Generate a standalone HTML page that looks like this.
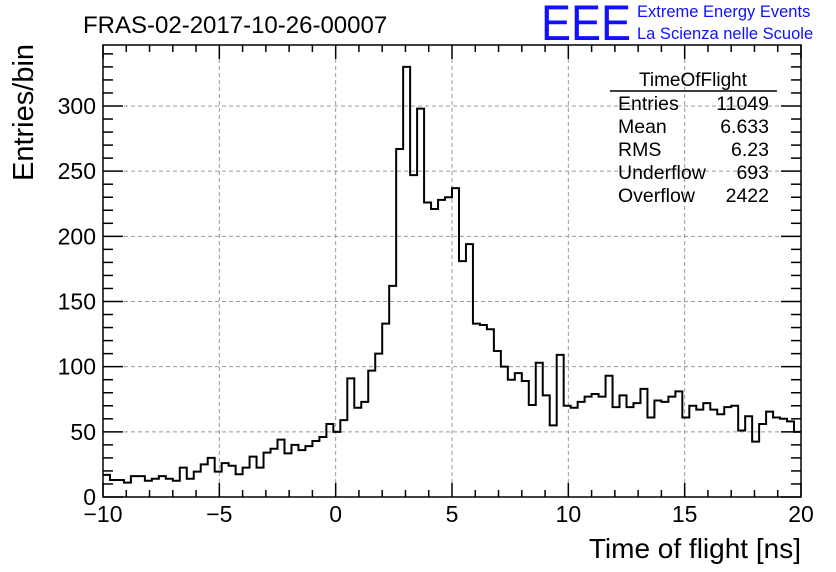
<!DOCTYPE html>
<html><head><meta charset="utf-8"><style>
body{margin:0;background:#fff;}
svg{display:block;font-family:"Liberation Sans",sans-serif;}
</style></head><body>
<svg id="c" width="836" height="572">
<text x="83" y="33" font-size="24">FRAS-02-2017-10-26-00007</text>
<text x="541" y="40" font-size="50" fill="#1010ff" textLength="90" lengthAdjust="spacingAndGlyphs">EEE</text>
<text x="637" y="17" font-size="16.5" fill="#1010ff">Extreme Energy Events</text>
<text x="637" y="39" font-size="16.5" fill="#1010ff">La Scienza nelle Scuole</text>
<g id="grid"></g>
<g id="hist"></g>
<rect x="103" y="45" width="698" height="452" fill="none" stroke="#000" stroke-width="1.5"/>
<g id="ticks"></g>
<text x="801" y="558" font-size="28" text-anchor="end">Time of flight [ns]</text>
<text transform="translate(33,181) rotate(-90)" font-size="29">Entries/bin</text>
<g>
<text x="693" y="86" font-size="19" text-anchor="middle">TimeOfFlight</text>
<line x1="610" y1="91" x2="777" y2="91" stroke="#000" stroke-width="1.5"/>
<g font-size="19.5" id="stats"></g>
</g>
</svg>
<script>
const binLo=-10, binW=0.3;
const counts=[17,13,13,11,16,16,12.5,14,16,14,12.5,22.5,14,19.5,25,30,19.5,26,24,17.5,22.5,31,22.5,34,37,44,33.5,40,36,39,43,46,56,50,59,91,68.5,73,97,110,133,162,267,330,247,298,226,221,228,230,237,181,194,133,132,128.7,112,100,90,95,89,70.6,103,78,55,109,70,68.5,73,77,79,77,93,69,78,69,72,83,61,74,73,77,81,61,70,67,72,67,63.5,69,70,51,62,42.5,56,65.5,61,60,58,50];
const xTicks=[-10,-5,0,5,10,15,20];
const yTicks=[0,50,100,150,200,250,300];
const statLabels=["Entries","Mean","RMS","Underflow","Overflow"];
const statValues=["11049","6.633","6.23","693","2422"];
const NS="http://www.w3.org/2000/svg";
const X0=103,X1=801,Y0=497,Y1=45;
const sx=v=>X0+(v+10)*(X1-X0)/30;
const sy=v=>Y0-v*391/300;
function mk(t,a,p){const e=document.createElementNS(NS,t);for(const k in a)e.setAttribute(k,a[k]);p.appendChild(e);return e;}
const grid=document.getElementById('grid'),ticks=document.getElementById('ticks'),hist=document.getElementById('hist'),stats=document.getElementById('stats');
xTicks.forEach(v=>{
 if(v>-10&&v<20){const g=mk('line',{x1:sx(v),x2:sx(v),y1:Y1,y2:Y0,stroke:'#999','stroke-dasharray':'4,3'},grid);
 
 }
 const t=mk('text',{x:sx(v),y:522,'font-size':23,'text-anchor':'middle'},ticks);t.textContent=v<0?'\u2212'+(-v):v;
 
 
});
for(let v=-10;v<=20;v++){const L=v%5===0?14:7;
 mk('line',{x1:sx(v),x2:sx(v),y1:Y0,y2:Y0-L,stroke:'#000','stroke-width':1.5},ticks);
 mk('line',{x1:sx(v),x2:sx(v),y1:Y1,y2:Y1+L,stroke:'#000','stroke-width':1.5},ticks);}
yTicks.forEach(v=>{
 if(v>0){const g=mk('line',{x1:X0,x2:X1,y1:sy(v),y2:sy(v),stroke:'#999','stroke-dasharray':'4,3'},grid);
 
 }
 const t=mk('text',{x:96,y:sy(v)+8,'font-size':23,'text-anchor':'end'},ticks);t.textContent=v;
 
 
});
for(let v=0;sy(v)>=Y1;v+=10){const L=v%50===0?20:10;
 mk('line',{x1:X0,x2:X0+L,y1:sy(v),y2:sy(v),stroke:'#000','stroke-width':1.5},ticks);
 mk('line',{x1:X1,x2:X1-L,y1:sy(v),y2:sy(v),stroke:'#000','stroke-width':1.5},ticks);}
let d='M'+sx(binLo)+','+sy(counts[0]);
counts.forEach((c,i)=>{const a=sx(binLo+i*binW),b=sx(binLo+(i+1)*binW);d+=' L'+a+','+sy(c)+' L'+b+','+sy(c);});
const p=mk('path',{d:d,fill:'none',stroke:'#000','stroke-width':2},hist);


statLabels.forEach((l,i)=>{const y=110+i*23;
 const a=mk('text',{x:618,y:y},stats);a.textContent=l;
 
 
 const b=mk('text',{x:769,y:y,'text-anchor':'end'},stats);b.textContent=statValues[i];
 
 
});
</script>
</body></html>
